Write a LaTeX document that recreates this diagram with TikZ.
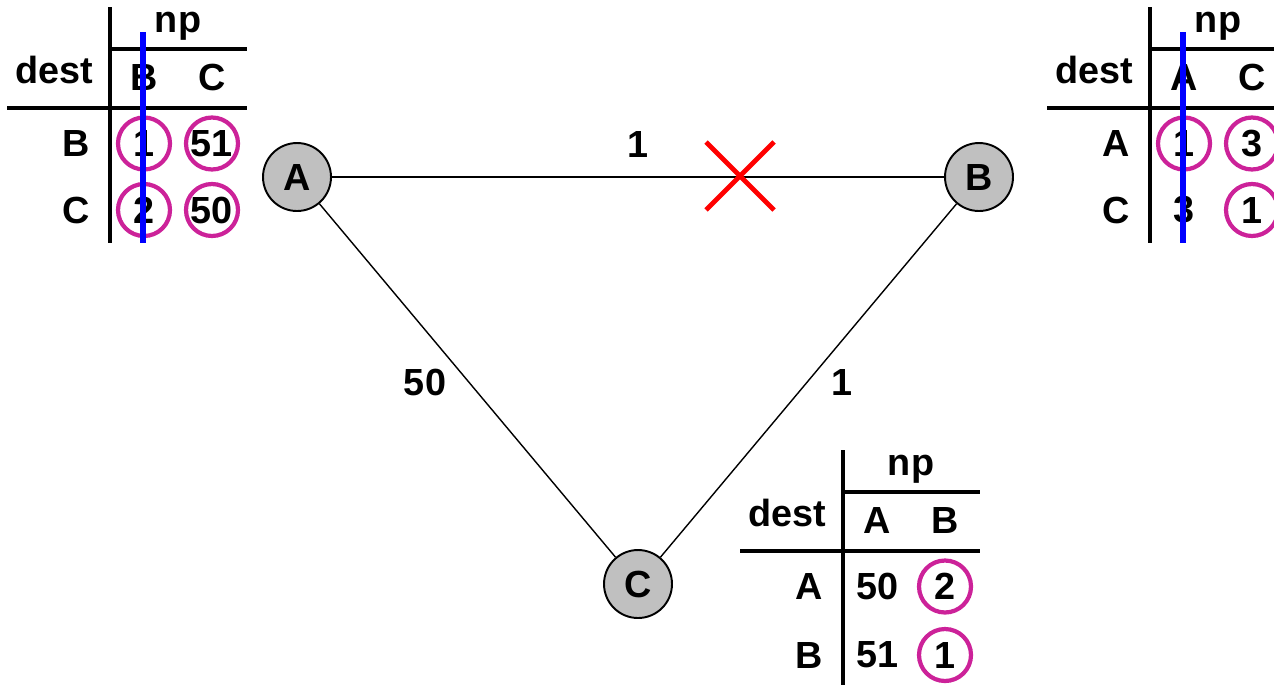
\documentclass[tikz,border=0pt]{standalone}
\usepackage{fontspec}
\setmainfont{Liberation Sans}
\usepackage{xcolor}
\usetikzlibrary{positioning, calc}
\definecolor{chosen}{RGB}{204, 34, 153}
\definecolor{routerfill}{RGB}{192, 192, 192}

\begin{document}
\begin{tikzpicture}[
    x=0.02cm, y=-0.02cm,
    every node/.style={font=\fontsize{21.5}{25}\selectfont\bfseries, inner sep=0pt},
    router/.style={circle, draw=black, line width=1.1pt, fill=routerfill, minimum size=1.36cm},
    link/.style={line width=0.8pt},
    rule/.style={line width=2pt},
    pick/.style={circle, draw=chosen, line width=2.4pt, minimum size=1.04cm},
    strike/.style={blue, line width=3pt},
    cut/.style={red, line width=2.8pt}
  ]
  \useasboundingbox (0,0) rectangle (1274,684);
  \clip (0,0) rectangle (1274,684);

  % Routers
  \node[router] (A) at (297,177) {A};
  \node[router] (B) at (979,177) {B};
  \node[router] (C) at (638,584) {C};

  % Links
  \draw[link] (A) -- (B) node[pos=0.5, above=10.5pt] (ab) {1};
  \draw[link] (A) -- (C);
  \draw[link] (B) -- (C);
  \node (ac) at (425,382) {50};
  \node (bc) at (842,382) {1};

  % Broken link
  \coordinate (x) at (740,176);
  \draw[cut] ($(x)+(-34,-34)$) -- ($(x)+(34,34)$);
  \draw[cut] ($(x)+(-34,34)$) -- ($(x)+(34,-34)$);

  % Distance table at A
  \begin{scope}[shift={(0,0)}]
    \draw[rule] (110,7) -- (110,243);
    \draw[rule] (110,49) -- (247,49);
    \draw[rule] (7,108) -- (247,108);
    \node (a-np) at (178,26.5) {np};
    \node (a-dest) at (54,70) {dest};
    \node (a-h1) at (144,77) {B};
    \node (a-h2) at (212,77) {C};
    \node (a-r1) at (76,143.5) {B};
    \node (a-r2) at (76,210) {C};
    \node[pick] (a-11) at (144,143.5) {1};
    \node[pick] (a-12) at (212,143.5) {51};
    \node[pick] (a-21) at (144,210) {2};
    \node[pick] (a-22) at (212,210) {50};
    \draw[strike] (143,32) -- (143,243);
  \end{scope}

  % Distance table at B
  \begin{scope}[shift={(1040,0)}]
    \draw[rule] (110,7) -- (110,243);
    \draw[rule] (110,49) -- (247,49);
    \draw[rule] (7,108) -- (247,108);
    \node (b-np) at (178,26.5) {np};
    \node (b-dest) at (54,70) {dest};
    \node (b-h1) at (144,77) {A};
    \node (b-h2) at (212,77) {C};
    \node (b-r1) at (76,143.5) {A};
    \node (b-r2) at (76,210) {C};
    \node[pick] (b-11) at (144,143.5) {1};
    \node[pick] (b-12) at (212,143.5) {3};
    \node (b-21) at (144,210) {3};
    \node[pick] (b-22) at (212,210) {1};
    \draw[strike] (143,32) -- (143,243);
  \end{scope}

  % Distance table at C
  \begin{scope}[shift={(733,443)}]
    \draw[rule] (110,7) -- (110,243);
    \draw[rule] (110,49) -- (247,49);
    \draw[rule] (7,108) -- (247,108);
    \node (c-np) at (178,26.5) {np};
    \node (c-dest) at (54,70) {dest};
    \node (c-h1) at (144,77) {A};
    \node (c-h2) at (212,77) {B};
    \node (c-r1) at (76,143.5) {A};
    \node (c-r2) at (76,212) {B};
    \node (c-11) at (144,143.5) {50};
    \node[pick] (c-12) at (212,143.5) {2};
    \node (c-21) at (144,212) {51};
    \node[pick] (c-22) at (212,212) {1};
  \end{scope}

\end{tikzpicture}
\end{document}
